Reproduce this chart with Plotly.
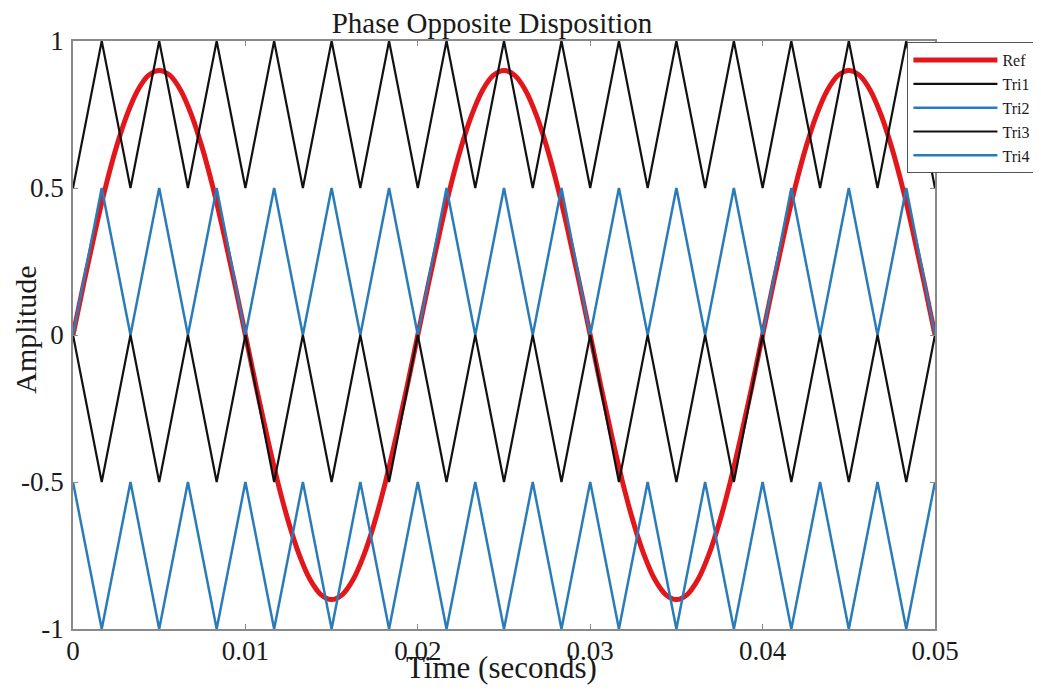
import plotly.graph_objects as go

# Reference (modulating) wave samples, time in seconds
ref_time = [0.0, 0.000625, 0.00125, 0.001875, 0.0025, 0.003125, 0.00375, 0.004375,
            0.005, 0.005625, 0.00625, 0.006875, 0.0075, 0.008125, 0.00875, 0.009375,
            0.01, 0.010625, 0.01125, 0.011875, 0.0125, 0.013125, 0.01375, 0.014375,
            0.015, 0.015625, 0.01625, 0.016875, 0.0175, 0.018125, 0.01875, 0.019375,
            0.02, 0.020625, 0.02125, 0.021875, 0.0225, 0.023125, 0.02375, 0.024375,
            0.025, 0.025625, 0.02625, 0.026875, 0.0275, 0.028125, 0.02875, 0.029375,
            0.03, 0.030625, 0.03125, 0.031875, 0.0325, 0.033125, 0.03375, 0.034375,
            0.035, 0.035625, 0.03625, 0.036875, 0.0375, 0.038125, 0.03875, 0.039375,
            0.04, 0.040625, 0.04125, 0.041875, 0.0425, 0.043125, 0.04375, 0.044375,
            0.045, 0.045625, 0.04625, 0.046875, 0.0475, 0.048125, 0.04875, 0.049375,
            0.05]
ref_vals = [0.0, 0.176, 0.344, 0.5, 0.636, 0.748, 0.832, 0.883,
            0.9, 0.883, 0.832, 0.748, 0.636, 0.5, 0.344, 0.176,
            0.0, -0.176, -0.344, -0.5, -0.636, -0.748, -0.832, -0.883,
            -0.9, -0.883, -0.832, -0.748, -0.636, -0.5, -0.344, -0.176,
            0.0, 0.176, 0.344, 0.5, 0.636, 0.748, 0.832, 0.883,
            0.9, 0.883, 0.832, 0.748, 0.636, 0.5, 0.344, 0.176,
            0.0, -0.176, -0.344, -0.5, -0.636, -0.748, -0.832, -0.883,
            -0.9, -0.883, -0.832, -0.748, -0.636, -0.5, -0.344, -0.176,
            0.0, 0.176, 0.344, 0.5, 0.636, 0.748, 0.832, 0.883,
            0.9, 0.883, 0.832, 0.748, 0.636, 0.5, 0.344, 0.176,
            0.0]

# Carrier vertex times (triangle corners)
tri_time = [0.0, 0.0016667, 0.0033333, 0.005, 0.0066667, 0.0083333, 0.01,
            0.0116667, 0.0133333, 0.015, 0.0166667, 0.0183333, 0.02,
            0.0216667, 0.0233333, 0.025, 0.0266667, 0.0283333, 0.03,
            0.0316667, 0.0333333, 0.035, 0.0366667, 0.0383333, 0.04,
            0.0416667, 0.0433333, 0.045, 0.0466667, 0.0483333, 0.05]
tri1_vals = [0.5, 1, 0.5, 1, 0.5, 1, 0.5, 1, 0.5, 1, 0.5, 1, 0.5, 1, 0.5, 1,
             0.5, 1, 0.5, 1, 0.5, 1, 0.5, 1, 0.5, 1, 0.5, 1, 0.5, 1, 0.5]
tri2_vals = [0, 0.5, 0, 0.5, 0, 0.5, 0, 0.5, 0, 0.5, 0, 0.5, 0, 0.5, 0, 0.5,
             0, 0.5, 0, 0.5, 0, 0.5, 0, 0.5, 0, 0.5, 0, 0.5, 0, 0.5, 0]
tri3_vals = [0, -0.5, 0, -0.5, 0, -0.5, 0, -0.5, 0, -0.5, 0, -0.5, 0, -0.5, 0, -0.5,
             0, -0.5, 0, -0.5, 0, -0.5, 0, -0.5, 0, -0.5, 0, -0.5, 0, -0.5, 0]
tri4_vals = [-0.5, -1, -0.5, -1, -0.5, -1, -0.5, -1, -0.5, -1, -0.5, -1, -0.5, -1,
             -0.5, -1, -0.5, -1, -0.5, -1, -0.5, -1, -0.5, -1, -0.5, -1, -0.5, -1,
             -0.5, -1, -0.5]

x_ticks = [0, 0.01, 0.02, 0.03, 0.04, 0.05]
x_ticktext = ["0", "0.01", "0.02", "0.03", "0.04", "0.05"]
y_ticks = [-1, -0.5, 0, 0.5, 1]
y_ticktext = ["-1", "-0.5", "0", "0.5", "1"]

RED = "#e3161b"
BLACK = "#111111"
BLUE = "#2a7cb9"
FONT = "Liberation Serif"

fig = go.Figure()
fig.add_trace(go.Scatter(x=ref_time, y=ref_vals, name="Ref", mode="lines",
                         line=dict(color=RED, width=5, shape="spline")))
fig.add_trace(go.Scatter(x=tri_time, y=tri1_vals, name="Tri1", mode="lines",
                         line=dict(color=BLACK, width=2.2)))
fig.add_trace(go.Scatter(x=tri_time, y=tri2_vals, name="Tri2", mode="lines",
                         line=dict(color=BLUE, width=2.5)))
fig.add_trace(go.Scatter(x=tri_time, y=tri3_vals, name="Tri3", mode="lines",
                         line=dict(color=BLACK, width=2.2)))
fig.add_trace(go.Scatter(x=tri_time, y=tri4_vals, name="Tri4", mode="lines",
                         line=dict(color=BLUE, width=2.5)))

axis_common = dict(showline=True, mirror="ticks", linecolor="#8a8a8a", linewidth=1.5,
                   ticks="inside", ticklen=5, tickcolor="#8a8a8a", showgrid=False,
                   zeroline=False, tickfont=dict(family=FONT, size=27, color="#1a1a1a"))

fig.update_layout(
    width=1041, height=693,
    margin=dict(l=65, r=114, t=33, b=72, autoexpand=False),
    paper_bgcolor="white", plot_bgcolor="white",
    title=dict(text="Phase Opposite Disposition", x=484 / 1041, xref="container",
               xanchor="center", y=1 - 15 / 693, yref="container", yanchor="middle",
               font=dict(family=FONT, size=29, color="#1a1a1a")),
    xaxis=dict(range=[0, 0.05], tickvals=x_ticks, ticktext=x_ticktext,
               ticklabelstandoff=-3, **axis_common),
    yaxis=dict(range=[-1, 1], tickvals=y_ticks, ticktext=y_ticktext,
               ticklabelstandoff=2, **axis_common),
    legend=dict(x=0.968, y=0.998, xanchor="left", yanchor="top",
                bgcolor="white", bordercolor="#555555", borderwidth=1,
                itemwidth=84, font=dict(family=FONT, size=16, color="#1a1a1a"),
                tracegroupgap=0),
    showlegend=True,
    annotations=[
        dict(text="Time (seconds)", x=0.497, y=-0.066, xref="paper", yref="paper",
             xanchor="center", yanchor="middle", showarrow=False,
             font=dict(family=FONT, size=31, color="#1a1a1a")),
        dict(text="Amplitude", x=-0.056, y=0.5085, xref="paper", yref="paper",
             xanchor="center", yanchor="middle", showarrow=False, textangle=-90,
             font=dict(family=FONT, size=30, color="#1a1a1a")),
    ],
)

fig.write_html("out.html")
